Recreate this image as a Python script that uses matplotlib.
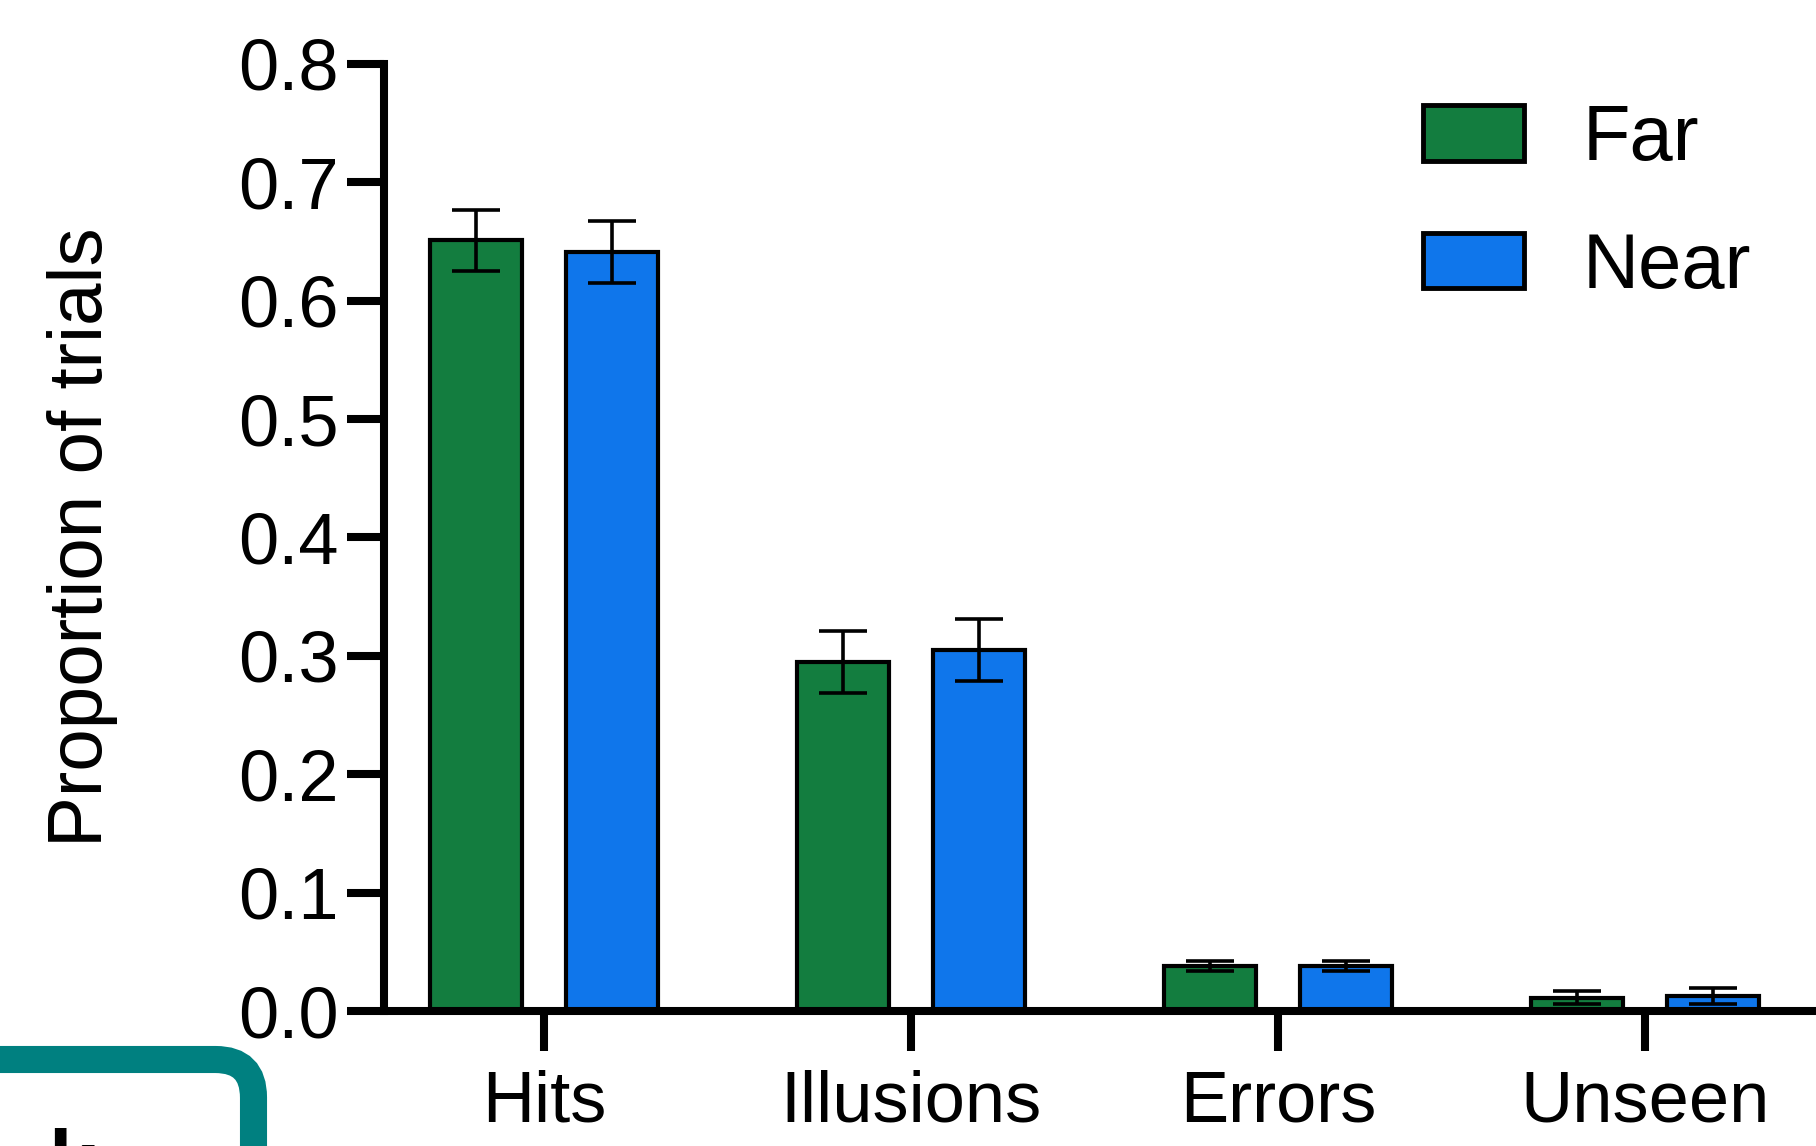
import numpy as np
import matplotlib
matplotlib.use("Agg")
import matplotlib.pyplot as plt
from matplotlib.patches import FancyBboxPatch

plt.rcParams['font.family'] = ['Liberation Sans', 'DejaVu Sans']

categories = ["Hits", "Illusions", "Errors", "Unseen"]
far_vals = [0.651, 0.295, 0.038, 0.011]
far_err = [0.026, 0.026, 0.0045, 0.0055]
near_vals = [0.641, 0.305, 0.038, 0.013]
near_err = [0.026, 0.026, 0.0045, 0.0068]
yticks = [0.0, 0.1, 0.2, 0.3, 0.4, 0.5, 0.6, 0.7, 0.8]

green = "#137d3f"
blue = "#0f76eb"

fig = plt.figure(figsize=(18.16, 11.46), dpi=100)
ax = fig.add_axes([0.2115, 0.1178, 0.7885, 0.8264])

x = np.arange(len(categories))
w = 0.25
off = 0.186
eb = dict(ecolor="black", elinewidth=2.6, capsize=17, capthick=2.6)
ax.bar(x - off, far_vals, w, color=green, edgecolor="black", linewidth=3,
       yerr=far_err, error_kw=eb, label="Far", zorder=2)
ax.bar(x + off, near_vals, w, color=blue, edgecolor="black", linewidth=3,
       yerr=near_err, error_kw=eb, label="Near", zorder=2)

ax.set_xlim(-0.436, 3.466)
ax.set_ylim(0, 0.8)
ax.set_yticks(yticks)
ax.set_yticklabels([f"{v:.1f}" for v in yticks])
ax.set_xticks(x)
ax.set_xticklabels(categories)

for s in ["top", "right"]:
    ax.spines[s].set_visible(False)
for s in ["left", "bottom"]:
    ax.spines[s].set_linewidth(5.8)
    ax.spines[s].set_zorder(3)
ax.spines["bottom"].set_capstyle("butt")

ax.tick_params(axis="y", length=27, width=5.8, labelsize=52, pad=6)
ax.tick_params(axis="x", length=29, width=5.8, labelsize=52, pad=13)
ax.set_ylabel("Proportion of trials", fontsize=55, labelpad=86)

leg = ax.legend(loc="upper left", bbox_to_anchor=(0.7835, 0.91),
                bbox_transform=fig.transFigure, frameon=False, fontsize=56,
                handlelength=1.30, handleheight=0.715, handletextpad=0.76,
                labelspacing=0.70, borderpad=0, borderaxespad=0)
for p in leg.get_patches():
    p.set_linewidth(3.5)

# overlay in pixel units for the cut-off panel box at the bottom left
ov = fig.add_axes([0, 0, 1, 1], zorder=-1)
ov.set_xlim(0, 1816)
ov.set_ylim(1146, 0)
ov.axis("off")
box = FancyBboxPatch((-200, 1059.5), 453.5, 300,
                     boxstyle="round,pad=0,rounding_size=38",
                     facecolor="none", edgecolor="#008080", linewidth=19.5)
ov.add_patch(box)
ov.text(48, 1190, "k", fontsize=61, fontweight="bold", color="black",
        va="baseline", ha="left")

fig.savefig("out.png", dpi=100)
